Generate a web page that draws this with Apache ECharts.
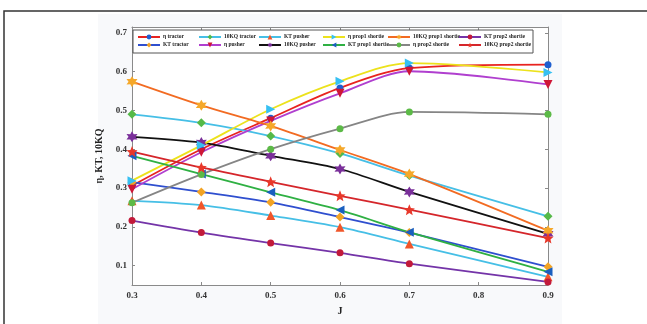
<!DOCTYPE html>
<html>
<head>
<meta charset="utf-8">
<script src="https://cdn.jsdelivr.net/npm/echarts@6/dist/echarts.min.js"></script>
<style>
  html, body { margin: 0; padding: 0; background: #fff; }
  #chart { width: 647px; height: 324px; }
</style>
</head>
<body>
<div id="chart"></div>
<script>
// advance coefficient J
const J = [0.3, 0.4, 0.5, 0.6, 0.7, 0.9]

const etaTractor = [0.306, 0.400, 0.480, 0.558, 0.609, 0.618]
const ktTractor = [0.315, 0.290, 0.263, 0.225, 0.185, 0.097]
const kqTractor = [0.490, 0.468, 0.434, 0.389, 0.332, 0.227]
const etaPusher = [0.297, 0.392, 0.473, 0.544, 0.601, 0.567]
const ktPusher = [0.267, 0.256, 0.229, 0.199, 0.156, 0.071]
const kqPusher = [0.432, 0.417, 0.383, 0.349, 0.290, 0.182]
const etaProp1 = [0.319, 0.410, 0.503, 0.575, 0.622, 0.598]
const ktProp1 = [0.383, 0.336, 0.289, 0.243, 0.186, 0.084]
const kqProp1 = [0.574, 0.513, 0.460, 0.398, 0.336, 0.190]
const etaProp2 = [0.262, 0.335, 0.400, 0.453, 0.496, 0.490]
const ktProp2 = [0.216, 0.185, 0.158, 0.133, 0.105, 0.058]
const kqProp2 = [0.394, 0.353, 0.316, 0.280, 0.244, 0.171]

const yTicks = [0.1, 0.2, 0.3, 0.4, 0.5, 0.6, 0.7]

function starPath(points, inner) {
  let d = ''
  for (let i = 0; i < points * 2; i++) {
    const r = i % 2 === 0 ? 10 : 10 * inner
    const a = Math.PI * i / points - Math.PI / 2
    d += (i === 0 ? 'M' : 'L') + (r * Math.cos(a)).toFixed(2) + ' ' + (r * Math.sin(a)).toFixed(2)
  }
  return 'path://' + d + 'Z'
}
const hexagram = starPath(6, 0.55)
const pentagram = starPath(5, 0.45)

// name, values, line colour, marker colour, symbol, rotate
const seriesDefs = [
  ['η tractor', etaTractor, '#e8231f', '#1f5fd0', 'circle', 0],
  ['KT tractor', ktTractor, '#2f4fcf', '#f2a324', 'diamond', 0],
  ['10KQ tractor', kqTractor, '#46bfe6', '#55b948', 'diamond', 0],
  ['η pusher', etaPusher, '#b03fcf', '#cf1636', 'triangle', 180],
  ['KT pusher', ktPusher, '#46bfe6', '#f0562a', 'triangle', 0],
  ['10KQ pusher', kqPusher, '#111111', '#7a2f9a', hexagram, 0],
  ['η prop1 shortie', etaProp1, '#ece21c', '#36c0f2', 'triangle', -90],
  ['KT prop1 shortie', ktProp1, '#2fb043', '#1a5fbf', 'triangle', 90],
  ['10KQ prop1 shortie', kqProp1, '#f26b22', '#f5a82a', hexagram, 0],
  ['η prop2 shortie', etaProp2, '#858585', '#5cba47', 'circle', 0],
  ['KT prop2 shortie', ktProp2, '#7434a8', '#c21a3a', 'circle', 0],
  ['10KQ prop2 shortie', kqProp2, '#d5262b', '#e8382a', pentagram, 0]
]

const legendCols = [137, 198, 258, 322, 387, 458]
const legendRows = [34, 42]

const serif = 'Liberation Serif'

const chart = echarts.init(document.getElementById('chart'))

const series = seriesDefs.map(([name, vals, lineColor, markColor, symbol, rot]) => ({
  name,
  type: 'line',
  data: J.map((x, i) => [x, vals[i]]),
  smooth: 0.3,
  symbol,
  symbolRotate: rot,
  symbolSize: symbol === 'circle' ? 7 : (symbol.startsWith('path') ? 11 : 9),
  showAllSymbol: true,
  lineStyle: { color: lineColor, width: 1.8 },
  itemStyle: { color: markColor },
  z: 3
}))

const legends = seriesDefs.map(([name], i) => ({
  data: [name],
  left: legendCols[Math.floor(i / 2)],
  top: legendRows[i % 2],
  padding: 0,
  itemWidth: 22,
  itemHeight: 6,
  itemGap: 0,
  selectedMode: false,
  z: 10,
  textStyle: { fontFamily: serif, fontWeight: 'bold', fontSize: 5.5, color: '#222', padding: [0, 0, 0, -2] }
}))

const axisLine = { show: true, lineStyle: { color: '#8a8a8a', width: 1 } }

const option = {
  animation: false,
  backgroundColor: '#ffffff',
  graphic: [
    { type: 'rect', z: -10, shape: { x: 98, y: 14, width: 464, height: 320 }, style: { fill: '#f8f9fb' } },
    { type: 'rect', z: -5, shape: { x: 4, y: 11, width: 900, height: 600 }, style: { fill: 'none', stroke: '#333', lineWidth: 1.5 } },
    { type: 'rect', z: 5, shape: { x: 133, y: 30, width: 400, height: 23 }, style: { fill: '#ffffff', stroke: '#555', lineWidth: 1 } }
  ],
  legend: legends,
  grid: {
    left: 132, right: 99, top: 27, bottom: 39,
    show: true, backgroundColor: '#ffffff', borderWidth: 0
  },
  xAxis: [
    {
      type: 'value', min: 0.3, max: 0.9, interval: 0.1,
      name: 'J', nameLocation: 'middle', nameGap: 21,
      nameTextStyle: { fontFamily: serif, fontWeight: 'bold', fontSize: 10, color: '#222' },
      axisLine,
      axisTick: { inside: true, length: 3, lineStyle: { color: '#8a8a8a' } },
      splitLine: { show: false },
      axisLabel: { fontFamily: serif, fontWeight: 'bold', fontSize: 9, color: '#333', margin: 6, formatter: v => v.toFixed(1) }
    },
    {
      type: 'value', position: 'top', min: 0.3, max: 0.9, interval: 0.1,
      axisLine,
      axisTick: { inside: true, length: 3, lineStyle: { color: '#8a8a8a' } },
      splitLine: { show: false },
      axisLabel: { show: false }
    }
  ],
  yAxis: [
    {
      type: 'value', min: 0.05, max: 0.715,
      name: 'η, KT, 10KQ', nameLocation: 'middle', nameGap: 22, nameRotate: 90,
      nameTextStyle: { fontFamily: serif, fontWeight: 'bold', fontSize: 10, color: '#222' },
      axisLine,
      axisTick: { inside: true, length: 3, customValues: yTicks, lineStyle: { color: '#8a8a8a' } },
      splitLine: { show: false },
      axisLabel: { customValues: yTicks, fontFamily: serif, fontWeight: 'bold', fontSize: 9, color: '#333', margin: 5, formatter: v => v.toFixed(1) }
    },
    {
      type: 'value', position: 'right', min: 0.05, max: 0.715,
      axisLine,
      axisTick: { inside: true, length: 3, customValues: yTicks, lineStyle: { color: '#8a8a8a' } },
      splitLine: { show: false },
      axisLabel: { show: false }
    }
  ],
  series
}

chart.setOption(option)
</script>
</body>
</html>
